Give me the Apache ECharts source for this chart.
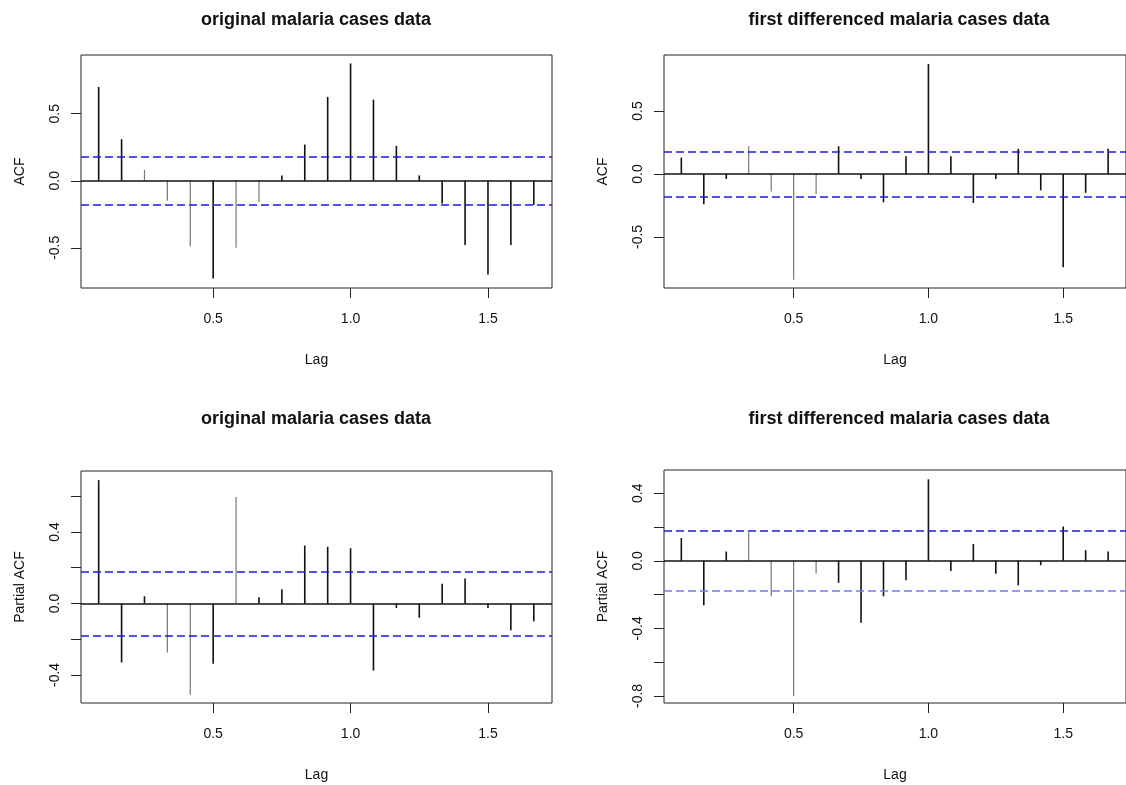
<!DOCTYPE html>
<html>
<head>
<meta charset="utf-8">
<script src="https://cdn.jsdelivr.net/npm/echarts@6/dist/echarts.min.js"></script>
<style>
  html, body { margin: 0; padding: 0; background: #fff; }
  #acfCharts { width: 1126px; height: 785px; }
</style>
</head>
<body>
<div id="acfCharts"></div>
<script>
// lag in years (monthly data, lags 1..20)
var LAGS = [0.0833, 0.1667, 0.25, 0.3333, 0.4167, 0.5, 0.5833, 0.6667, 0.75, 0.8333,
  0.9167, 1.0, 1.0833, 1.1667, 1.25, 1.3333, 1.4167, 1.5, 1.5833, 1.6667];

var ORIG_ACF = [0.70, 0.31, 0.08, -0.15, -0.49, -0.73, -0.50, -0.16, 0.04, 0.27,
  0.625, 0.875, 0.605, 0.26, 0.04, -0.17, -0.48, -0.70, -0.48, -0.18];
var DIFF_ACF = [0.13, -0.24, -0.04, 0.22, -0.14, -0.84, -0.16, 0.22, -0.04, -0.225,
  0.14, 0.873, 0.14, -0.23, -0.04, 0.20, -0.13, -0.74, -0.15, 0.20];
var ORIG_PACF = [0.69, -0.33, 0.04, -0.274, -0.511, -0.337, 0.596, 0.035, 0.08, 0.324,
  0.317, 0.309, -0.376, -0.025, -0.08, 0.11, 0.14, -0.025, -0.15, -0.10];
var DIFF_PACF = [0.135, -0.263, 0.055, 0.17, -0.21, -0.80, -0.077, -0.13, -0.366, -0.21,
  -0.115, 0.483, -0.06, 0.10, -0.077, -0.145, -0.026, 0.204, 0.063, 0.055];

// 95% bounds
var CI_ORIG = 0.179;
var CI_DIFF = 0.18;

var X_TICKS = [0.5, 1.0, 1.5];
var TITLES = ["original malaria cases data", "first differenced malaria cases data",
  "original malaria cases data", "first differenced malaria cases data"];

// bars that came out lighter in the scan
var FAINT = [[2, 3, 4, 6, 7], [3, 4, 5, 6], [3, 4, 6], [3, 4, 5, 6]];

var FONT = "'Liberation Sans', Arial, sans-serif";

var panels = [
  { values: ORIG_ACF, ci: CI_ORIG, yName: "ACF", yMin: -0.80, yMax: 0.938,
    ticks: [-0.5, 0, 0.5], labels: [-0.5, 0, 0.5],
    left: 81, top: 55, height: 233, titleTop: 11 },
  { values: DIFF_ACF, ci: CI_DIFF, yName: "ACF", yMin: -0.905, yMax: 0.944,
    ticks: [-0.5, 0, 0.5], labels: [-0.5, 0, 0.5],
    left: 664, top: 55, height: 233, titleTop: 11 },
  { values: ORIG_PACF, ci: CI_ORIG, yName: "Partial ACF", yMin: -0.557, yMax: 0.741,
    ticks: [-0.4, -0.2, 0, 0.2, 0.4, 0.6], labels: [-0.4, 0, 0.4],
    left: 81, top: 471, height: 232, titleTop: 410 },
  { values: DIFF_PACF, ci: CI_DIFF, yName: "Partial ACF", yMin: -0.842, yMax: 0.538,
    ticks: [-0.8, -0.6, -0.4, -0.2, 0, 0.2, 0.4], labels: [-0.8, -0.4, 0, 0.4],
    left: 664, top: 470, height: 233, titleTop: 410, lowerCiColor: "#7a7ae6" },
];

var chart = echarts.init(document.getElementById("acfCharts"));

var grids = [], xAxes = [], yAxes = [], series = [], titles = [];

panels.forEach(function (p, i) {
  grids.push({
    left: p.left, top: p.top, width: 471, height: p.height,
    show: true, borderColor: "#222", borderWidth: 1, backgroundColor: "transparent",
  });
  titles.push({
    text: TITLES[i], left: p.left + 235, top: p.titleTop, textAlign: "center", padding: 0,
    textStyle: { fontFamily: FONT, fontSize: 18, fontWeight: "bold", color: "#111" },
  });
  xAxes.push({
    gridIndex: i, type: "value", min: 0.019, max: 1.733,
    name: "Lag", nameLocation: "middle", nameGap: 65,
    nameTextStyle: { fontFamily: FONT, fontSize: 14, color: "#111" },
    axisLine: { show: false, onZero: false },
    splitLine: { show: false },
    axisTick: { show: true, length: 10, customValues: X_TICKS, lineStyle: { color: "#222" } },
    axisLabel: {
      customValues: X_TICKS, margin: 24, fontFamily: FONT, fontSize: 14, color: "#111",
      formatter: function (v) { return v.toFixed(1); },
    },
  });
  yAxes.push({
    gridIndex: i, type: "value", min: p.yMin, max: p.yMax,
    name: p.yName, nameLocation: "middle", nameGap: 54, nameRotate: 90,
    nameTextStyle: { fontFamily: FONT, fontSize: 14, color: "#111" },
    axisLine: { show: false, onZero: false },
    splitLine: { show: false },
    axisTick: { show: true, length: 10, customValues: p.ticks, lineStyle: { color: "#222" } },
    axisLabel: {
      customValues: p.labels, rotate: 90, margin: 19, fontFamily: FONT, fontSize: 14, color: "#111",
      formatter: function (v) { return v.toFixed(1); },
    },
  });

  var data = [];
  for (var k = 0; k < LAGS.length; k++) {
    data.push([LAGS[k], p.values[k], FAINT[i].indexOf(k) >= 0 ? 1 : 0]);
  }

  series.push({
    type: "custom",
    xAxisIndex: i,
    yAxisIndex: i,
    silent: true,
    data: data,
    renderItem: function (params, api) {
      var x = api.value(0);
      var base = api.coord([x, 0]);
      var tip = api.coord([x, api.value(1)]);
      var faint = api.value(2) === 1;
      return {
        type: "line",
        shape: { x1: base[0], y1: base[1], x2: tip[0], y2: tip[1] },
        style: { stroke: faint ? "#777" : "#111", lineWidth: faint ? 1.2 : 1.6 },
      };
    },
    markLine: {
      silent: true,
      symbol: "none",
      label: { show: false },
      animation: false,
      data: [
        { yAxis: 0, lineStyle: { color: "#111", type: "solid", width: 1.5 } },
        { yAxis: p.ci, lineStyle: { color: "#1a1ae6", type: [8, 4], width: 1.5 } },
        { yAxis: -p.ci, lineStyle: { color: p.lowerCiColor || "#1a1ae6", type: [8, 4], width: 1.5 } },
      ],
    },
  });
});

var option = {
  animation: false,
  backgroundColor: "#fff",
  title: titles,
  grid: grids,
  xAxis: xAxes,
  yAxis: yAxes,
  series: series,
};
chart.setOption(option);
</script>
</body>
</html>
